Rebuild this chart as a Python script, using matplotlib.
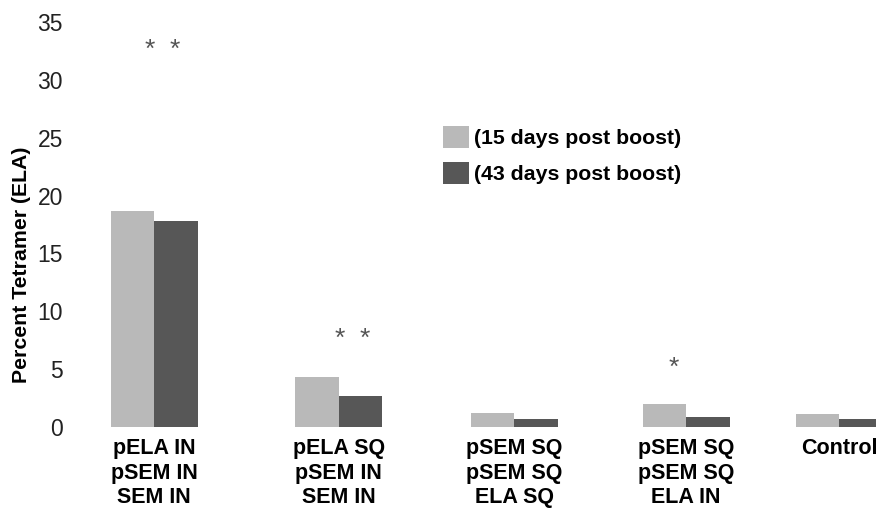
import matplotlib
matplotlib.use("Agg")
import matplotlib.pyplot as plt
import numpy as np

plt.rcParams['font.family'] = ['Liberation Sans', 'DejaVu Sans']

# data
groups = ["pELA IN\npSEM IN\nSEM IN", "pELA SQ\npSEM IN\nSEM IN",
          "pSEM SQ\npSEM SQ\nELA SQ", "pSEM SQ\npSEM SQ\nELA IN", "Control"]
day15 = [18.7, 4.3, 1.2, 2.0, 1.1]
day43 = [17.8, 2.7, 0.7, 0.9, 0.7]
series_names = ["(15 days post boost)", "(43 days post boost)"]
# significance stars: (group index, height)
star_groups = [0, 0, 1, 1, 3]
star_heights = [32.6, 32.6, 7.6, 7.6, 5.1]

# layout
group_pos = np.array([0, 4.25, 8.28, 12.23, 15.75])
star_shift = [-0.09, 0.48, 0.03, 0.6, -0.28]
light = "#b9b9b9"
dark = "#575757"

fig = plt.figure(figsize=(8.76, 5.09), dpi=100)
ax = fig.add_axes([70/876, 1-427/509, 1-70/876, (427-22)/509])

b1 = ax.bar(group_pos - 0.5, day15, width=1.0, color=light, label=series_names[0])
b2 = ax.bar(group_pos + 0.5, day43, width=1.0, color=dark, label=series_names[1])

for g, h, s in zip(star_groups, star_heights, star_shift):
    ax.text(group_pos[g] + s, h, "*", ha="center", va="center",
            fontsize=19, color="#555555")

ax.set_xlim(-(154-70)/43.5, (876-154)/43.5)
ax.set_ylim(0, 35)
ax.set_yticks(np.arange(0, 36, 5))
ax.tick_params(axis="y", length=0, labelsize=16.5, pad=5, colors="#222222")
ax.set_xticks(group_pos)
ax.set_xticklabels(groups, fontsize=15.5, fontweight="bold", linespacing=1.22)
ax.tick_params(axis="x", length=0, pad=8)
for sp in ax.spines.values():
    sp.set_visible(False)

fig.text(22/876, 1-265/509, "Percent Tetramer (ELA)", rotation=90,
         ha="center", va="center", fontsize=15.3, fontweight="bold")

leg = fig.legend(handles=[b1, b2], loc="upper left",
                 bbox_to_anchor=(443/876, 1-126/509), frameon=False,
                 prop={"weight": "bold", "size": 15.3}, handlelength=1.2,
                 handleheight=1.2, handletextpad=0.28, labelspacing=0.65,
                 borderpad=0, borderaxespad=0)

fig.savefig("out.png", dpi=100)
